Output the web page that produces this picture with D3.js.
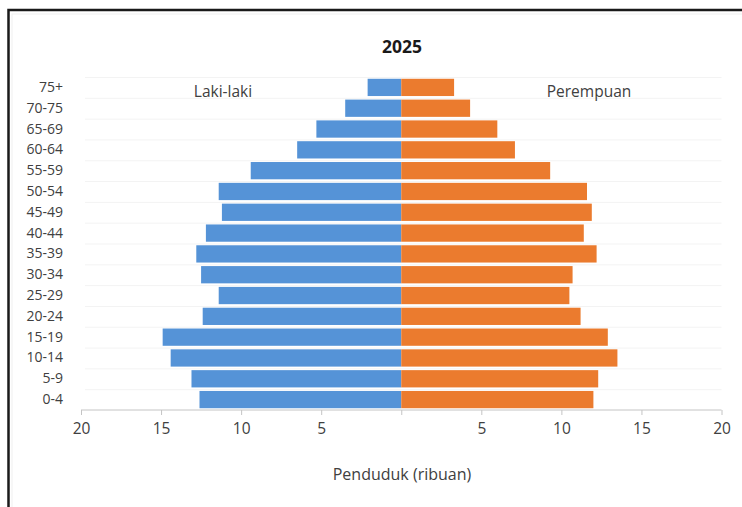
<!DOCTYPE html>
<html>
<head>
<meta charset="utf-8">
<script src="https://cdn.jsdelivr.net/npm/d3@7"></script>
<style>
  html, body { margin: 0; padding: 0; background: #fff; }
  svg { display: block; }
  text { font-family: "Open Sans", Lato, sans-serif; }
</style>
</head>
<body>
<svg id="chart" width="742" height="507"></svg>
<script>
const categories = ["0-4","5-9","10-14","15-19","20-24","25-29","30-34","35-39","40-44","45-49","50-54","55-59","60-64","65-69","70-75","75+"];
const maleValues   = [12.6, 13.1, 14.4, 14.9, 12.4, 11.4, 12.5, 12.8, 12.2, 11.2, 11.4, 9.4, 6.5, 5.3, 3.5, 2.1];
const femaleValues = [12.0, 12.3, 13.5, 12.9, 11.2, 10.5, 10.7, 12.2, 11.4, 11.9, 11.6, 9.3, 7.1, 6.0, 4.3, 3.3];
const xTickValues = [-20, -15, -10, -5, 0, 5, 10, 15, 20];
const title = "2025";
const maleLabel = "Laki-laki";
const femaleLabel = "Perempuan";
const xTitle = "Penduduk (ribuan)";

const svg = d3.select("#chart");
const FONT = "'Open Sans', Lato, sans-serif";

// frame
svg.append("rect").attr("x", 8.5).attr("y", 10).attr("width", 760).attr("height", 520)
  .attr("fill", "#fff").attr("stroke", "#1a1a1a").attr("stroke-width", 2.5);
svg.append("rect").attr("x", 12).attr("y", 14).attr("width", 760).attr("height", 520)
  .attr("fill", "none").attr("stroke", "#efefef").attr("stroke-width", 1);

const pLeft = 81, pRight = 721.5, pTop = 77, pBottom = 410;
const x = d3.scaleLinear().domain([-20, 20]).range([pLeft, pRight]);
const y = d3.scaleBand().domain(categories.slice().reverse()).range([pTop, pBottom]).paddingInner(0.17).paddingOuter(0.085);

// gridlines
const step = (pBottom - pTop) / categories.length;
const gridG = svg.append("g");
d3.range(categories.length).forEach(i => {
  gridG.append("line")
    .attr("x1", pLeft + 4).attr("x2", pRight)
    .attr("y1", pTop + i * step + 0.5).attr("y2", pTop + i * step + 0.5)
    .attr("stroke", "#f3f3f3").attr("stroke-width", 1);
});

const data = categories.map((c, i) => ({ c, m: maleValues[i], f: femaleValues[i] }));

svg.append("g").selectAll("rect").data(data).join("rect")
  .attr("x", d => x(-d.m)).attr("width", d => x(0) - x(-d.m))
  .attr("y", d => y(d.c)).attr("height", y.bandwidth())
  .attr("fill", "#5593d7");

svg.append("g").selectAll("rect").data(data).join("rect")
  .attr("x", x(0)).attr("width", d => x(d.f) - x(0))
  .attr("y", d => y(d.c)).attr("height", y.bandwidth())
  .attr("fill", "#eb7b2e");

// x axis
const xAxis = d3.axisBottom(x).tickValues(xTickValues)
  .tickFormat(d => d === 0 ? "" : Math.abs(d)).tickSize(5).tickPadding(8);
const gx = svg.append("g").attr("transform", `translate(0,${pBottom})`).call(xAxis);
gx.select(".domain").attr("stroke", "#c4c4c4").attr("d", `M${pLeft},0H${pRight}`);
gx.selectAll(".tick line").attr("stroke", "#c4c4c4");
gx.selectAll(".tick text").attr("fill", "#404040").attr("font-size", 15.5)
  .style("font-family", FONT);

// y labels
const yAxis = d3.axisLeft(y).tickSize(0).tickPadding(0);
const gy = svg.append("g").attr("transform", `translate(63,0)`).call(yAxis);
gy.select(".domain").remove();
gy.selectAll(".tick text").attr("fill", "#404040").attr("font-size", 14)
  .style("font-family", FONT);

// title
svg.append("text").attr("x", 402).attr("y", 53).attr("text-anchor", "middle")
  .attr("font-size", 17.5).attr("font-weight", "bold").attr("fill", "#1a1a1a").text(title);

svg.append("text").attr("x", 223).attr("y", 97).attr("text-anchor", "middle")
  .attr("font-size", 15.5).attr("fill", "#404040").text(maleLabel);
svg.append("text").attr("x", 589).attr("y", 97).attr("text-anchor", "middle")
  .attr("font-size", 15.5).attr("fill", "#404040").text(femaleLabel);

svg.append("text").attr("x", 402).attr("y", 480).attr("text-anchor", "middle")
  .attr("font-size", 16).attr("fill", "#404040").text(xTitle);
</script>
</body>
</html>
